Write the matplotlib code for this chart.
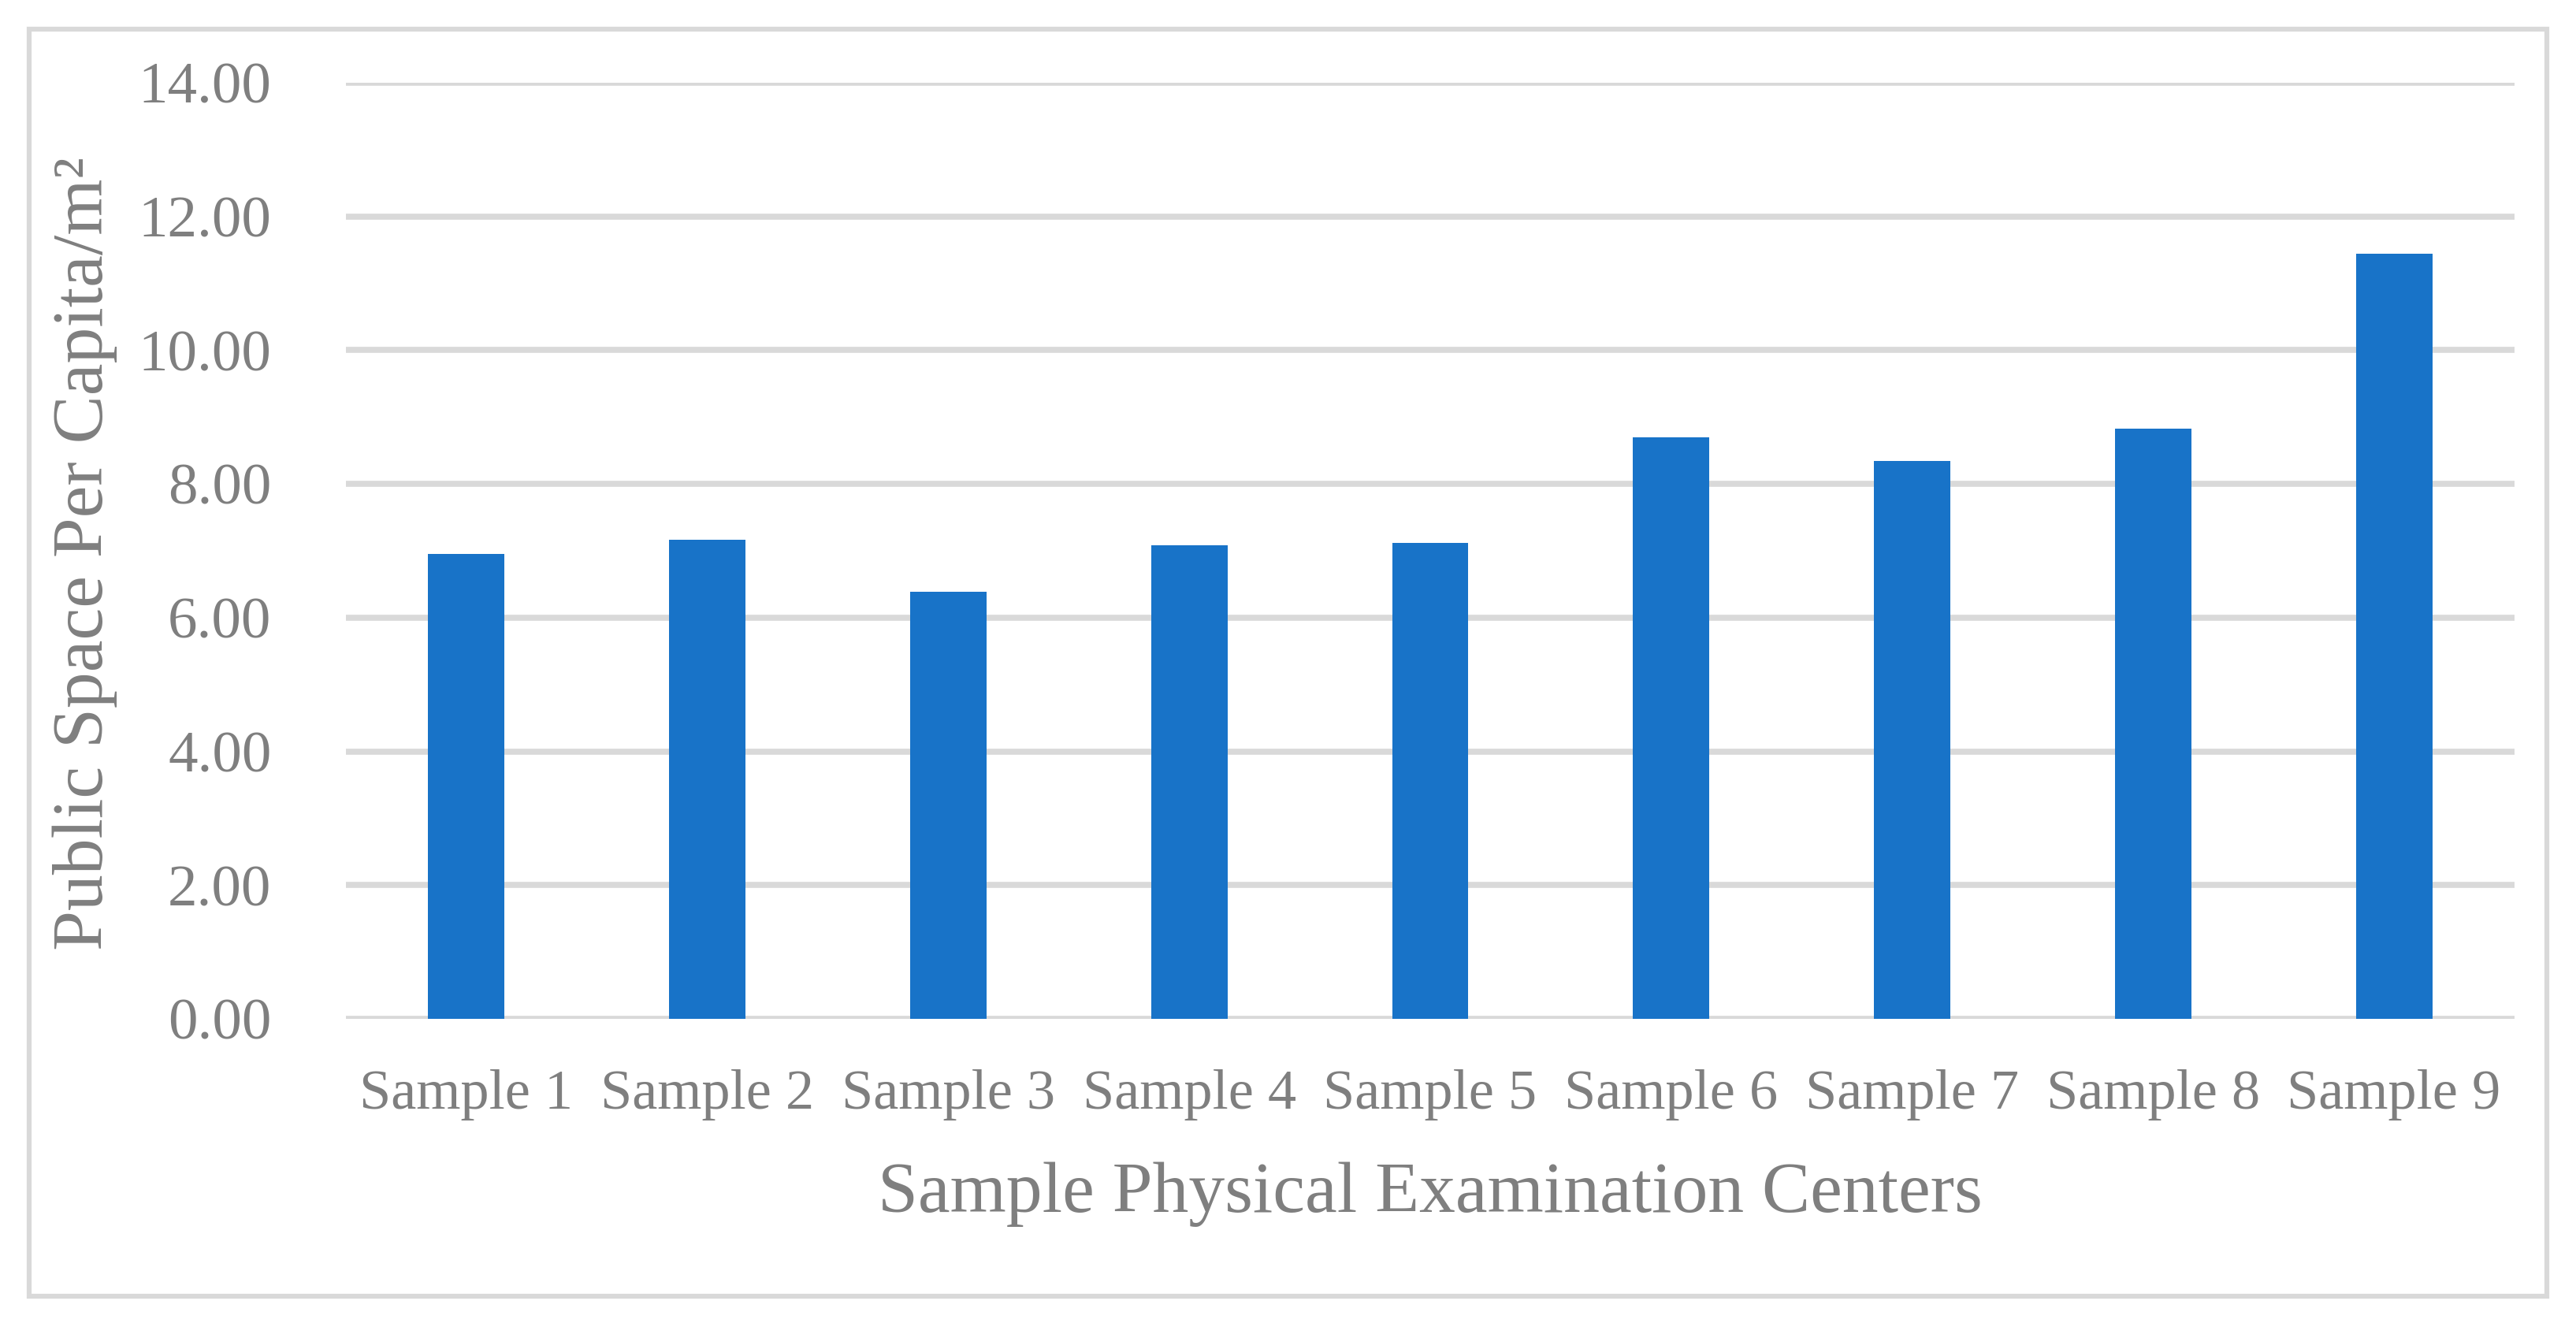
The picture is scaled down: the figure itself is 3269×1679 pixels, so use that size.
import matplotlib
matplotlib.use("Agg")
import matplotlib.pyplot as plt
from matplotlib.patches import Rectangle

# data
samples = ["Sample 1", "Sample 2", "Sample 3", "Sample 4", "Sample 5",
           "Sample 6", "Sample 7", "Sample 8", "Sample 9"]
space_per_capita = [6.95, 7.17, 6.39, 7.08, 7.12, 8.70, 8.34, 8.83, 11.44]
y_ticks = [0, 2, 4, 6, 8, 10, 12, 14]

text_color = "#7f7f7f"
grid_color = "#d9d9d9"
bar_color = "#1873c8"

plt.rcParams["font.family"] = ["Liberation Serif", "DejaVu Serif"]

W, H = 3269, 1679
fig = plt.figure(figsize=(W / 100, H / 100), dpi=100)

# outer frame around the whole chart
fig.patches.append(Rectangle((37 / W, 1 - 1645 / H), (3232 - 37) / W, (1645 - 37) / H,
                             transform=fig.transFigure, fill=False,
                             edgecolor=grid_color, linewidth=4.5))

ax = fig.add_axes([439 / W, 1 - 1293 / H, (3191 - 439) / W, (1293 - 105) / H])
ax.bar(range(len(samples)), space_per_capita, width=0.317, color=bar_color, zorder=3)

ax.set_xlim(-0.5, len(samples) - 0.5)
ax.set_ylim(0, 14)
ax.set_yticks(y_ticks)
ax.set_yticklabels([f"{v:.2f}" for v in y_ticks])
ax.set_xticks(range(len(samples)))
ax.set_xticklabels(samples)

ax.grid(axis="y", color=grid_color, linewidth=5.5, zorder=0)
ax.set_axisbelow(True)
for s in ax.spines.values():
    s.set_visible(False)
ax.tick_params(axis="both", length=0, colors=text_color)
ax.tick_params(axis="y", pad=68, labelsize=54)
ax.tick_params(axis="x", pad=46, labelsize=52)

fig.text(108 / W, 1 - 702 / H, "Public Space Per Capita/m²", rotation=90,
         ha="center", va="center", fontsize=66, color=text_color)
fig.text((439 + 3191) / 2 / W, 1 - 1516 / H, "Sample Physical Examination Centers",
         ha="center", va="center", fontsize=66, color=text_color)

fig.savefig("out.png", dpi=100, facecolor="white")
